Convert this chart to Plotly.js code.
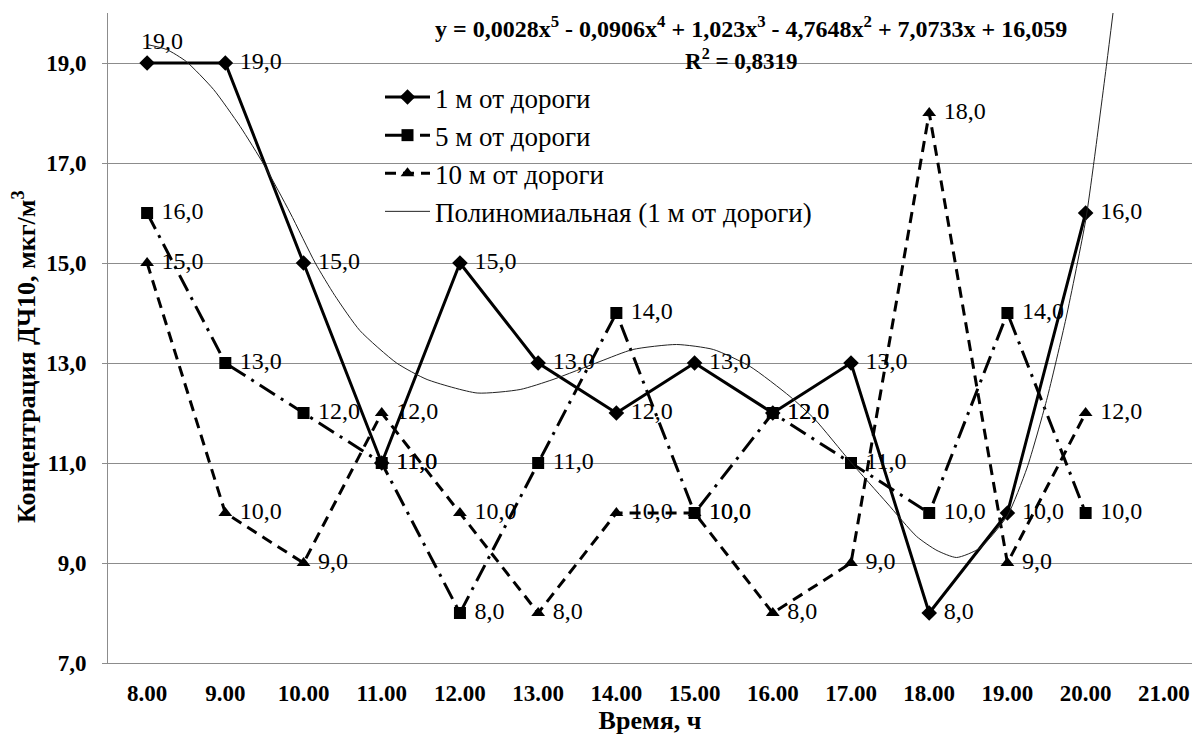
<!DOCTYPE html>
<html><head><meta charset="utf-8">
<script src="https://cdn.plot.ly/plotly-3.0.1.min.js"></script>
<style>html,body{margin:0;padding:0;background:#fff}#chart{width:1192px;height:737px}</style>
</head><body><div id="chart"></div>
<script>
const categories = ['8.00','9.00','10.00','11.00','12.00','13.00','14.00','15.00','16.00','17.00','18.00','19.00','20.00','21.00'];
const series1m = [19,19,15,11,15,13,12,13,12,13,8,10,16];
const series5m = [16,13,12,11,8,11,14,10,12,11,10,14,10];
const series10m = [15,10,9,12,10,8,10,10,8,9,18,9,12];
const seriesNames = ['1 м от дороги','5 м от дороги','10 м от дороги','Полиномиальная (1 м от дороги)'];
// polynomial trendline (x = category index)
const trendX = [0,0.25,0.5,0.85,1.19,1.5,1.83,2.15,2.4,2.72,3.19,3.58,4.22,4.77,5.19,5.79,6.21,6.77,7.24,7.71,8.22,8.54,8.99,9.46,9.84,10.1,10.35,10.65,11.0,11.25,11.5,11.75,12.0,12.1,12.27,12.35];
const trendY = [19.37,19.27,19.03,18.47,17.73,16.95,16.0,15.0,14.35,13.65,13.0,12.67,12.4,12.47,12.67,13.03,13.27,13.37,13.27,12.93,12.33,11.87,11.03,10.2,9.53,9.25,9.11,9.3,9.95,10.9,12.25,13.9,15.85,16.95,19.0,20.0];
const yTicks = [7,9,11,13,15,17,19];
const equationLine = 'y = 0,0028x<sup>5</sup> - 0,0906x<sup>4</sup> + 1,023x<sup>3</sup> - 4,7648x<sup>2</sup> + 7,0733x + 16,059';
const r2Line = 'R<sup>2</sup> = 0,8319';
const xTitle = 'Время, ч';
const yTitle = 'Концентрация ДЧ10, мкг/м<sup>3</sup>';

const FONT = 'Liberation Serif, Times New Roman, serif';
const idx = series1m.map((_, i) => i);
const NB = '\u00a0';
const fmt = v => v.toFixed(1).replace('.', ',');
const lbl = v => NB + fmt(v);
const catIdx = categories.map((_, i) => i);
const bounds = categories.map((_, i) => i - 0.5).concat([categories.length - 0.5]);
const XR = [-0.5, 13.36];
const px2x = p => (p - 108) / 1084;
const px2y = p => (663 - p) / 650;

const common = {x: idx, type: 'scatter', mode: 'lines+markers+text', hoverinfo: 'skip', cliponaxis: false,
  textfont: {family: FONT, size: 24, color: '#000'}};

const traces = [
  Object.assign({}, common, {y: series1m, name: seriesNames[0],
    text: series1m.map((v, i) => i === 0 ? NB.repeat(5) + fmt(v) : lbl(v)),
    textposition: series1m.map((_, i) => i === 0 ? 'top center' : 'middle right'),
    line: {color: '#000', width: 3}, marker: {symbol: 'diamond', size: 12, color: '#000'}}),
  Object.assign({}, common, {y: series5m, name: seriesNames[1],
    text: series5m.map(lbl), textposition: 'middle right',
    line: {color: '#000', width: 3, dash: '18px,7px,3px,7px'}, marker: {symbol: 'square', size: 12, color: '#000'}}),
  Object.assign({}, common, {y: series10m, name: seriesNames[2],
    text: series10m.map(lbl), textposition: 'middle right',
    line: {color: '#000', width: 3, dash: '11px,7px'}, marker: {symbol: 'triangle-up', size: 12, color: '#000'}}),
  {x: trendX, y: trendY, type: 'scatter', mode: 'lines', name: seriesNames[3], hoverinfo: 'skip',
    line: {color: '#222', width: 1, shape: 'spline', smoothing: 0.6}}
];

const layout = {
  width: 1192, height: 737,
  margin: {l: 108, r: 0, t: 13, b: 74},
  paper_bgcolor: '#fff', plot_bgcolor: '#fff',
  separators: ', ',
  font: {family: FONT, color: '#000'},
  showlegend: true,
  xaxis: {range: XR, tickvals: catIdx, ticktext: categories, ticks: '', showgrid: false, zeroline: false,
    showline: true, linecolor: '#8c8c8c', linewidth: 1,
    tickfont: {family: FONT, size: 23, weight: 'bold', color: '#000'}, ticklabelstandoff: 9,
    title: {text: xTitle, font: {family: FONT, size: 26, weight: 'bold', color: '#000'}, standoff: 4}},
  xaxis2: {overlaying: 'x', anchor: 'y', side: 'bottom', range: XR, tickvals: bounds, ticks: 'outside',
    ticklen: 8, tickcolor: '#8c8c8c', showticklabels: false, showgrid: false, zeroline: false, showline: false},
  yaxis: {range: [7, 20], tickvals: yTicks, tickformat: '.1f', ticks: 'outside', ticklen: 5, tickcolor: '#8c8c8c',
    showgrid: true, gridcolor: '#8c8c8c', gridwidth: 1, showline: true, linecolor: '#8c8c8c', zeroline: false,
    tickfont: {family: FONT, size: 23, weight: 'bold', color: '#000'}, ticklabelstandoff: 11},
  legend: {x: px2x(380), xanchor: 'left', y: px2y(73), yanchor: 'top', bgcolor: 'rgba(0,0,0,0)', borderwidth: 0,
    font: {family: FONT, size: 27, color: '#000'}, itemwidth: 45, traceorder: 'normal'},
  shapes: [{type: 'rect', xref: 'paper', yref: 'paper', x0: px2x(342), x1: px2x(862), y0: px2y(235), y1: px2y(75),
    fillcolor: '#fff', line: {width: 0}, layer: 'between'}],
  annotations: [
    {xref: 'paper', yref: 'paper', x: px2x(751), y: px2y(27), xanchor: 'center', yanchor: 'middle',
      text: '<b>' + equationLine + '</b>', showarrow: false, font: {family: FONT, size: 24, color: '#000'}},
    {xref: 'paper', yref: 'paper', x: px2x(741), y: px2y(60), xanchor: 'center', yanchor: 'middle',
      text: '<b>' + r2Line + '</b>', showarrow: false, font: {family: FONT, size: 23, color: '#000'}},
    {xref: 'paper', yref: 'paper', x: px2x(25), y: px2y(357), xanchor: 'center', yanchor: 'middle', textangle: -90,
      text: '<b>' + yTitle + '</b>', showarrow: false, font: {family: FONT, size: 26, color: '#000'}}
  ]
};

Plotly.newPlot('chart', traces, layout, {staticPlot: true, displayModeBar: false});
</script>
</body></html>
